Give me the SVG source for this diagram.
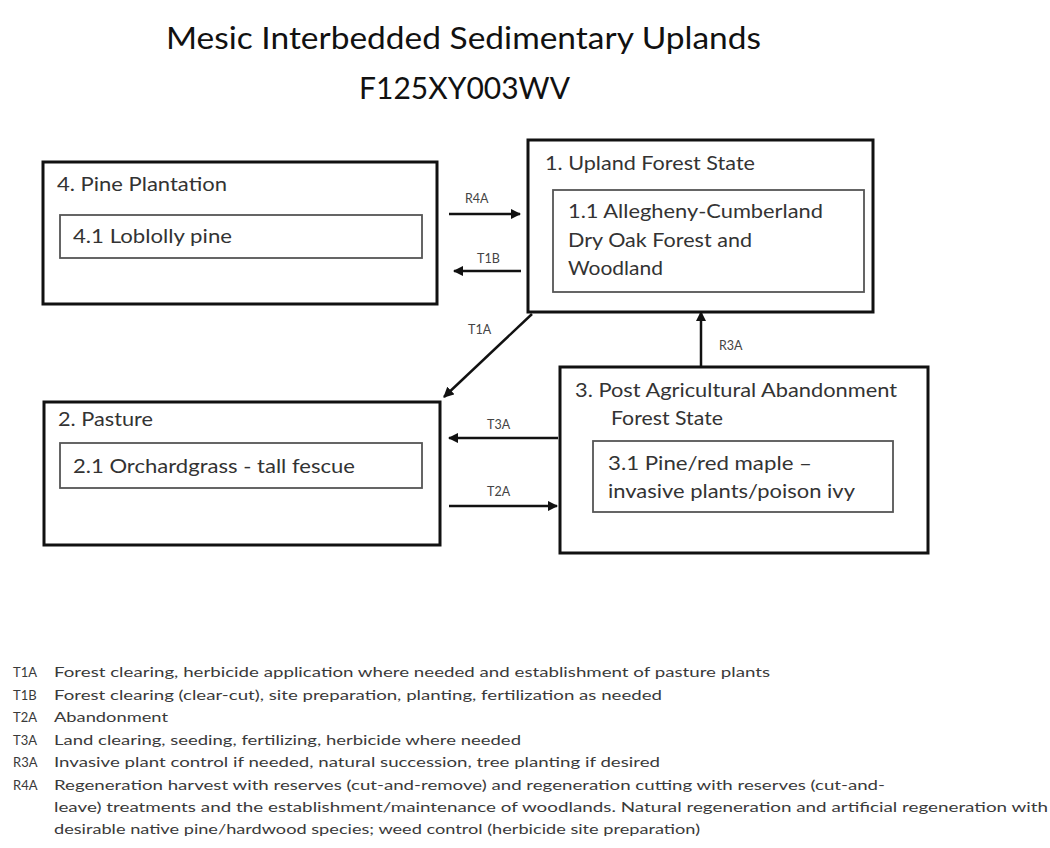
<svg xmlns="http://www.w3.org/2000/svg" width="1050" height="848" viewBox="0 0 1050 848">
<style>
text{font-family:Lato,"Open Sans","Liberation Sans",sans-serif}
.title{font-size:31px;fill:#111}
.outer{fill:#fff;stroke:#111;stroke-width:3}
.inner{fill:#fff;stroke:#555;stroke-width:1.8}
.st{font-size:19px;fill:#333}
.lbl{font-size:12.5px;fill:#444}
.leg{font-size:13px;fill:#3a3a3a}
.conn{stroke:#111;stroke-width:2.5;fill:none;marker-end:url(#ah)}
</style>
<defs>
<marker id="ah" viewBox="0 0 10 10" refX="9" refY="5" markerWidth="4.2" markerHeight="4.2" orient="auto" markerUnits="strokeWidth">
<path d="M0,0 L10,5 L0,10 z" fill="#111"/>
</marker>
</defs>
<rect width="1050" height="848" fill="#fff"/>
<g id="title">
<text class="title" x="166" y="49" textLength="595" lengthAdjust="spacingAndGlyphs">Mesic Interbedded Sedimentary Uplands</text>
<text class="title" x="359" y="99" textLength="211" lengthAdjust="spacingAndGlyphs">F125XY003WV</text>
</g>
<g id="state4">
<rect class="outer" x="43" y="162" width="394" height="142"/>
<text class="st" x="57" y="191" textLength="170" lengthAdjust="spacingAndGlyphs">4. Pine Plantation</text>
<rect class="inner" x="60" y="215" width="362" height="43"/>
<text class="st" x="73" y="243" textLength="159" lengthAdjust="spacingAndGlyphs">4.1 Loblolly pine</text>
</g>
<g id="state1">
<rect class="outer" x="528" y="140" width="345" height="172"/>
<text class="st" x="545" y="170" textLength="210" lengthAdjust="spacingAndGlyphs">1. Upland Forest State</text>
<rect class="inner" x="553" y="190" width="311" height="102"/>
<text class="st" x="568" y="218" textLength="255" lengthAdjust="spacingAndGlyphs">1.1 Allegheny-Cumberland</text>
<text class="st" x="568" y="247" textLength="184" lengthAdjust="spacingAndGlyphs">Dry Oak Forest and</text>
<text class="st" x="568" y="275" textLength="95" lengthAdjust="spacingAndGlyphs">Woodland</text>
</g>
<g id="state2">
<rect class="outer" x="44" y="402" width="396" height="143"/>
<text class="st" x="58" y="426" textLength="95" lengthAdjust="spacingAndGlyphs">2. Pasture</text>
<rect class="inner" x="60" y="443" width="362" height="45"/>
<text class="st" x="73" y="473" textLength="282" lengthAdjust="spacingAndGlyphs">2.1 Orchardgrass - tall fescue</text>
</g>
<g id="state3">
<rect class="outer" x="560" y="367" width="368" height="186"/>
<text class="st" x="575" y="397" textLength="322" lengthAdjust="spacingAndGlyphs">3. Post Agricultural Abandonment</text>
<text class="st" x="611" y="425" textLength="112" lengthAdjust="spacingAndGlyphs">Forest State</text>
<rect class="inner" x="593" y="441" width="300" height="71"/>
<text class="st" x="608" y="470" textLength="204" lengthAdjust="spacingAndGlyphs">3.1 Pine/red maple –</text>
<text class="st" x="608" y="498" textLength="247" lengthAdjust="spacingAndGlyphs">invasive plants/poison ivy</text>
</g>
<g id="connectors">
<line class="conn" x1="449" y1="214" x2="520" y2="214"/>
<line class="conn" x1="521" y1="271" x2="454" y2="271"/>
<line class="conn" x1="532" y1="314" x2="444" y2="397"/>
<line class="conn" x1="701" y1="366" x2="701" y2="312"/>
<line class="conn" x1="558" y1="438" x2="449" y2="438"/>
<line class="conn" x1="449" y1="506" x2="557" y2="506"/>
<text class="lbl" x="465" y="203">R4A</text>
<text class="lbl" x="477" y="263">T1B</text>
<text class="lbl" x="468" y="334">T1A</text>
<text class="lbl" x="719" y="350">R3A</text>
<text class="lbl" x="487" y="429">T3A</text>
<text class="lbl" x="487" y="496">T2A</text>
</g>
<g id="legend">
<text class="leg" x="13" y="677">T1A</text>
<text class="leg" x="54" y="677" textLength="716" lengthAdjust="spacingAndGlyphs">Forest clearing, herbicide application where needed  and establishment of pasture plants</text>
<text class="leg" x="13" y="700">T1B</text>
<text class="leg" x="54" y="700" textLength="608" lengthAdjust="spacingAndGlyphs">Forest clearing (clear-cut), site preparation, planting, fertilization as needed</text>
<text class="leg" x="13" y="722">T2A</text>
<text class="leg" x="54" y="722" textLength="114" lengthAdjust="spacingAndGlyphs">Abandonment</text>
<text class="leg" x="13" y="745">T3A</text>
<text class="leg" x="54" y="745" textLength="467" lengthAdjust="spacingAndGlyphs">Land clearing, seeding, fertilizing, herbicide where needed</text>
<text class="leg" x="13" y="767">R3A</text>
<text class="leg" x="54" y="767" textLength="606" lengthAdjust="spacingAndGlyphs">Invasive plant control if needed,  natural succession, tree planting if desired</text>
<text class="leg" x="13" y="790">R4A</text>
<text class="leg" x="54" y="790" textLength="831" lengthAdjust="spacingAndGlyphs">Regeneration harvest with reserves (cut-and-remove) and regeneration cutting with reserves (cut-and-</text>
<text class="leg" x="54" y="812" textLength="994" lengthAdjust="spacingAndGlyphs">leave) treatments and the establishment/maintenance of woodlands. Natural regeneration and artificial regeneration with</text>
<text class="leg" x="54" y="834" textLength="646" lengthAdjust="spacingAndGlyphs">desirable native pine/hardwood species; weed control (herbicide site preparation)</text>
</g>
</svg>
